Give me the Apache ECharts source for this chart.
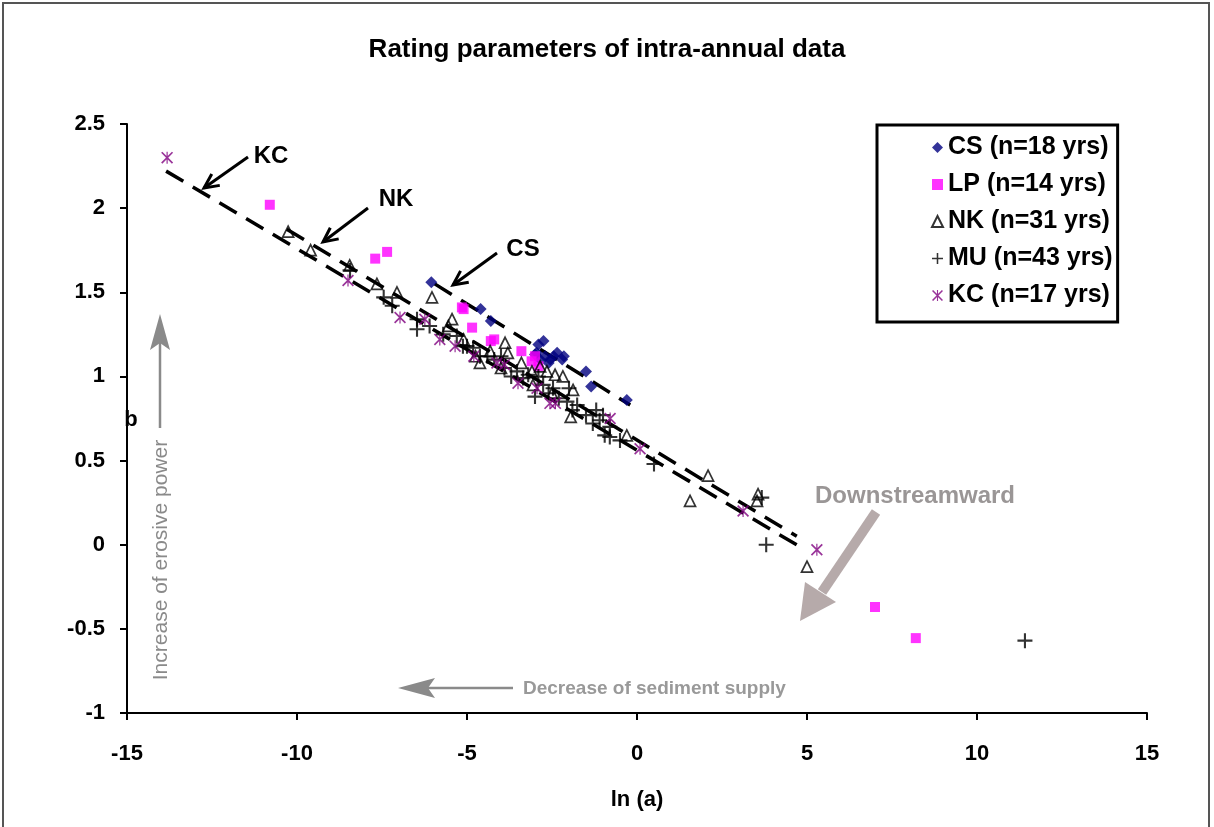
<!DOCTYPE html>
<html>
<head>
<meta charset="utf-8">
<title>Rating parameters of intra-annual data</title>
<script src="https://cdn.jsdelivr.net/npm/echarts@6/dist/echarts.min.js"></script>
<style>
  html, body { margin: 0; padding: 0; background: #fff; }
  #chart { width: 1214px; height: 827px; }
</style>
</head>
<body>
<div id="chart"></div>
<script>
// ln(a), b pairs
const csPoints = [
  [-6.05, 1.56], [-4.6, 1.40], [-4.3, 1.33], [-2.75, 1.21], [-2.9, 1.19],
  [-2.95, 1.14], [-2.7, 1.12], [-2.55, 1.10], [-2.45, 1.12], [-2.35, 1.14],
  [-2.15, 1.12], [-2.6, 1.08], [-2.85, 1.10], [-3.0, 1.13], [-2.2, 1.10],
  [-1.5, 1.03], [-1.35, 0.94], [-0.3, 0.86]
];
const lpPoints = [
  [-10.8, 2.02], [-7.7, 1.70], [-7.35, 1.74], [-5.15, 1.41], [-4.85, 1.29],
  [-4.3, 1.21], [-3.4, 1.15], [-3.1, 1.09], [-3.0, 1.12], [-2.9, 1.06],
  [-4.2, 1.22], [-5.1, 1.40], [7.0, -0.37], [8.2, -0.555]
];
const nkPoints = [
  [-10.26, 1.86], [-9.6, 1.75], [-8.45, 1.66], [-7.65, 1.55], [-7.06, 1.50],
  [-6.03, 1.47], [-5.44, 1.34], [-5.55, 1.30], [-4.62, 1.08], [-4.75, 1.12],
  [-3.88, 1.20], [-4.32, 1.15], [-3.8, 1.14], [-3.09, 1.03], [-2.85, 1.06],
  [-2.65, 1.03], [-2.41, 1.01], [-2.18, 1.00], [-1.88, 0.92], [-1.95, 0.76],
  [-3.06, 0.95], [-0.3, 0.65], [2.09, 0.41], [1.56, 0.26], [3.53, 0.26],
  [3.56, 0.30], [5.0, -0.13], [-5.1, 1.22], [-3.4, 1.08], [-2.5, 0.90],
  [-4.0, 1.05]
];
const muPoints = [
  [11.41, -0.57], [3.8, 0.0], [3.67, 0.28], [0.5, 0.48], [-0.8, 0.64],
  [-1.1, 0.74], [-0.5, 0.62], [-7.45, 1.47], [-6.47, 1.34], [-6.47, 1.28],
  [-8.44, 1.63], [-5.3, 1.24], [-5.12, 1.18], [-4.82, 1.17], [-5.0, 1.18],
  [-4.62, 1.12], [-3.53, 1.03], [-3.35, 0.99], [-2.76, 0.95], [-2.47, 0.93],
  [-2.06, 0.85], [-1.76, 0.83], [-1.0, 0.77], [-0.8, 0.70], [-4.4, 1.12],
  [-4.2, 1.10], [-3.7, 1.00], [-3.2, 1.01], [-2.9, 1.00], [-2.6, 0.90],
  [-2.3, 0.87], [-1.9, 0.80], [-1.5, 0.77], [-1.3, 0.72], [-0.95, 0.65],
  [-5.7, 1.25], [-6.1, 1.30], [-7.2, 1.42], [-3.9, 1.05], [-2.0, 0.93],
  [-3.0, 0.88], [-4.0, 1.12], [-1.2, 0.80]
];
const kcPoints = [
  [-13.82, 2.30], [-8.5, 1.57], [-6.97, 1.35], [-6.24, 1.34], [-5.8, 1.22],
  [-5.35, 1.18], [-4.8, 1.12], [-4.12, 1.08], [-3.9, 1.07], [-3.5, 0.96],
  [-2.94, 0.93], [-2.56, 0.84], [-2.4, 0.84], [-0.79, 0.75], [0.09, 0.57],
  [3.12, 0.20], [5.29, -0.03]
];

// fitted lines, end points
const csFit = [[-5.95, 1.55], [-0.2, 0.83]];
const nkFit = [[-10.3, 1.875], [4.7, 0.05]];
const kcFit = [[-13.85, 2.22], [4.94, -0.03]];

const seriesNames = ['CS (n=18 yrs)', 'LP (n=14 yrs)', 'NK (n=31 yrs)', 'MU (n=43 yrs)', 'KC (n=17 yrs)'];

const FONT = 'Liberation Sans, Arial, sans-serif';
const plusPath = 'path://M4.3,0H5.7V4.3H10V5.7H5.7V10H4.3V5.7H0V4.3H4.3Z';
const starPath = 'path://M0,1L1,0L10,9L9,10ZM9,0L10,1L1,10L0,9ZM4.5,0H5.5V10H4.5Z';

function fitSeries(data) {
  return {
    type: 'line',
    data: data,
    symbol: 'none',
    silent: true,
    z: 1,
    lineStyle: { color: '#000', width: 3.5, type: [20, 11] }
  };
}

// open V arrow head + shaft, pixel coords
function blackArrow(tail, tip) {
  const ang = Math.atan2(tip[1] - tail[1], tip[0] - tail[0]);
  const len = 16, spread = 0.45;
  const a1 = [tip[0] - len * Math.cos(ang - spread), tip[1] - len * Math.sin(ang - spread)];
  const a2 = [tip[0] - len * Math.cos(ang + spread), tip[1] - len * Math.sin(ang + spread)];
  return [
    { type: 'line', shape: { x1: tail[0], y1: tail[1], x2: tip[0], y2: tip[1] }, style: { stroke: '#000', lineWidth: 3 } },
    { type: 'polyline', shape: { points: [a1, tip, a2] }, style: { stroke: '#000', lineWidth: 3, fill: null } }
  ];
}

function label(text, x, y, size, color) {
  return {
    type: 'text', x: x, y: y,
    style: { text: text, font: 'bold ' + size + 'px ' + FONT, fill: color || '#000', align: 'center', verticalAlign: 'middle' }
  };
}

let chart = echarts.init(document.getElementById('chart'));

let option = {
  animation: false,
  backgroundColor: '#fff',
  title: {
    text: 'Rating parameters of intra-annual data',
    left: 'center',
    top: 32,
    textStyle: { fontFamily: FONT, fontSize: 26, fontWeight: 'bold', color: '#000' }
  },
  grid: { left: 127, right: 67, top: 124, bottom: 114 },
  legend: {
    data: seriesNames,
    orient: 'vertical',
    left: 877,
    top: 125,
    padding: [10, 5, 14, 54],
    itemGap: 12,
    itemWidth: 11,
    itemHeight: 11,
    borderColor: '#000',
    borderWidth: 3,
    backgroundColor: '#fff',
    textStyle: { fontFamily: FONT, fontSize: 25, fontWeight: 'bold', color: '#000' }
  },
  xAxis: {
    type: 'value',
    min: -15, max: 15, interval: 5,
    splitLine: { show: false },
    axisLine: { onZero: false, lineStyle: { color: '#000', width: 2 } },
    axisTick: { length: 7, lineStyle: { color: '#000', width: 2 } },
    axisLabel: { margin: 30, fontFamily: FONT, fontSize: 22, fontWeight: 'bold', color: '#000' },
    name: 'ln (a)',
    nameLocation: 'middle',
    nameGap: 76,
    nameTextStyle: { fontFamily: FONT, fontSize: 22, fontWeight: 'bold', color: '#000' }
  },
  yAxis: {
    type: 'value',
    min: -1, max: 2.5, interval: 0.5,
    splitLine: { show: false },
    axisLine: { onZero: false, lineStyle: { color: '#000', width: 2 } },
    axisTick: { length: 7, lineStyle: { color: '#000', width: 2 } },
    axisLabel: { margin: 22, fontFamily: FONT, fontSize: 22, fontWeight: 'bold', color: '#000' }
  },
  series: [
    { name: seriesNames[0], type: 'scatter', data: csPoints, symbol: 'diamond', symbolSize: 12, z: 3,
      itemStyle: { color: '#000080' } },
    { name: seriesNames[1], type: 'scatter', data: lpPoints, symbol: 'rect', symbolSize: 10, z: 3,
      itemStyle: { color: '#ff00ff' } },
    { name: seriesNames[2], type: 'scatter', data: nkPoints, symbol: 'triangle', symbolSize: 11, z: 3,
      itemStyle: { color: 'rgba(255,255,255,0)', borderColor: '#000', borderWidth: 1.7 } },
    { name: seriesNames[3], type: 'scatter', data: muPoints, symbol: plusPath, symbolSize: 15, z: 3,
      itemStyle: { color: '#000' } },
    { name: seriesNames[4], type: 'scatter', data: kcPoints, symbol: starPath, symbolSize: 12, z: 3,
      itemStyle: { color: '#800080' } },
    fitSeries(csFit),
    fitSeries(nkFit),
    fitSeries(kcFit)
  ],
  graphic: [
    // outer frame
    { type: 'rect', shape: { x: 3, y: 3, width: 1206, height: 830 }, style: { stroke: '#555', lineWidth: 2, fill: null } },
    label('b', 131, 420, 22),
    label('KC', 271, 156, 24),
    label('NK', 396, 199, 24),
    label('CS', 523, 249, 24),
    ...blackArrow([248, 157], [204, 188]),
    ...blackArrow([368, 208], [323, 242]),
    ...blackArrow([497, 253], [453, 285]),
    // downstream arrow
    label('Downstreamward', 915, 496, 24, '#9a9696'),
    { type: 'line', shape: { x1: 876, y1: 512, x2: 822, y2: 592 }, style: { stroke: '#b6aaaa', lineWidth: 10 } },
    { type: 'polygon', shape: { points: [[805, 582], [836, 602], [800, 621]] }, style: { fill: '#b6aaaa' } },
    // erosive power arrow
    { type: 'line', shape: { x1: 160, y1: 428, x2: 160, y2: 340 }, style: { stroke: '#8a8a8a', lineWidth: 2.5 } },
    { type: 'polygon', shape: { points: [[150, 350], [160, 314], [170, 350], [160, 343]] }, style: { fill: '#8a8a8a' } },
    {
      type: 'text', x: 161, y: 560, rotation: Math.PI / 2,
      style: { text: 'Increase of erosive power', font: '21px ' + FONT, fill: '#8a8a8a', align: 'center', verticalAlign: 'middle' }
    },
    // sediment supply arrow
    { type: 'line', shape: { x1: 513, y1: 688, x2: 420, y2: 688 }, style: { stroke: '#8a8a8a', lineWidth: 2.5 } },
    { type: 'polygon', shape: { points: [[435, 678], [398, 688], [435, 698], [428, 688]] }, style: { fill: '#8a8a8a' } },
    {
      type: 'text', x: 523, y: 689,
      style: { text: 'Decrease of sediment supply', font: 'bold 19px ' + FONT, fill: '#999', align: 'left', verticalAlign: 'middle' }
    }
  ]
};

chart.setOption(option);
window.addEventListener('resize', function () {
  chart.resize();
});
</script>
</body>
</html>
